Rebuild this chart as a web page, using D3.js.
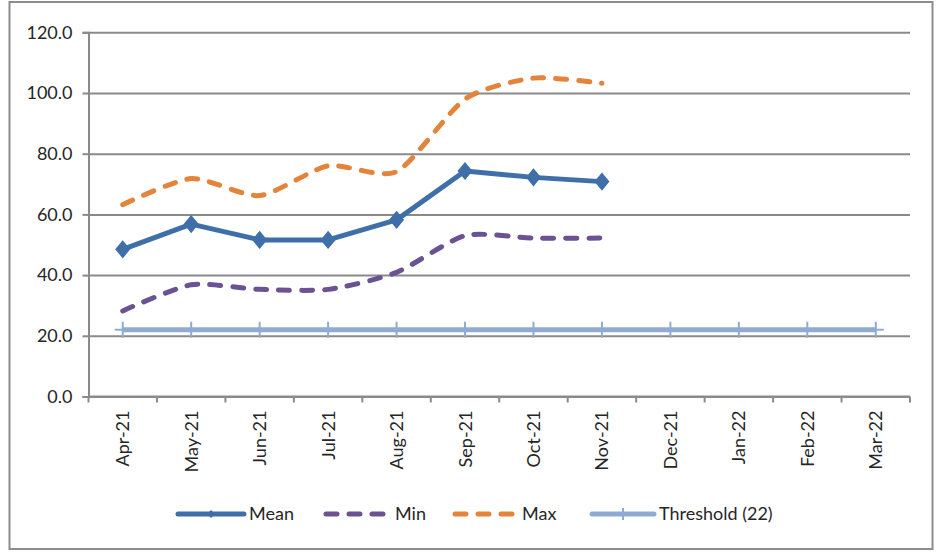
<!DOCTYPE html>
<html>
<head>
<meta charset="utf-8">
<script src="https://cdn.jsdelivr.net/npm/d3@7"></script>
<style>
  html, body { margin: 0; padding: 0; background: #fff; }
  svg { display: block; font-family: Lato, "Open Sans", sans-serif; }
</style>
</head>
<body>
<svg id="chart" width="937" height="553"></svg>
<script>
// Monthly categories along the x axis
const months = ["Apr-21", "May-21", "Jun-21", "Jul-21", "Aug-21", "Sep-21",
                "Oct-21", "Nov-21", "Dec-21", "Jan-22", "Feb-22", "Mar-22"];

// Series values (only Apr–Nov reported so far)
const meanValues = [48.5, 56.8, 51.6, 51.6, 58.2, 74.3, 72.2, 70.8];
const minValues  = [28.2, 36.8, 35.3, 35.3, 40.9, 53.0, 52.2, 52.2];
const maxValues  = [63.2, 71.8, 66.2, 76.0, 74.1, 98.0, 104.9, 103.2];
const thresholdValues = [22, 22, 22, 22, 22, 22, 22, 22, 22, 22, 22, 22];

// Y axis tick values
const yTicks = [0, 20, 40, 60, 80, 100, 120];

const svg = d3.select("#chart");

const plot = { left: 88.5, right: 910, top: 32.3, bottom: 396.5 };

const x = d3.scaleBand().domain(months).range([plot.left, plot.right]).padding(0);
const cx = d => x(d) + x.bandwidth() / 2;
const y = d3.scaleLinear().domain([0, 120]).range([plot.bottom, plot.top]);

const gridColor = "#8a8a8a";
const textColor = "#262626";

// Outer chart frame
svg.append("rect")
  .attr("x", 9.5).attr("y", 2).attr("width", 923).attr("height", 547)
  .attr("fill", "none").attr("stroke", "#8c8c8c").attr("stroke-width", 2);

// Horizontal gridlines
svg.append("g")
  .attr("transform", `translate(${plot.left},0)`)
  .call(d3.axisLeft(y).tickValues(yTicks).tickSize(-(plot.right - plot.left)).tickFormat(""))
  .call(g => g.select(".domain").remove())
  .call(g => g.selectAll("line").attr("stroke", gridColor).attr("stroke-width", 2));

// Y axis with labels
svg.append("g")
  .attr("transform", `translate(${plot.left},0)`)
  .call(d3.axisLeft(y).tickValues(yTicks).tickSize(6).tickPadding(10).tickFormat(d3.format(".1f")))
  .call(g => g.select(".domain").attr("stroke", gridColor).attr("stroke-width", 2))
  .call(g => g.selectAll("line").attr("stroke", gridColor).attr("stroke-width", 2))
  .call(g => g.selectAll("text").attr("fill", textColor).style("font-size", "18px")
    .style("font-family", "Lato, sans-serif"));

// X axis baseline with boundary ticks between categories
const xAxis = svg.append("g");
xAxis.append("line")
  .attr("x1", plot.left).attr("x2", plot.right)
  .attr("y1", plot.bottom).attr("y2", plot.bottom)
  .attr("stroke", gridColor).attr("stroke-width", 2);
const boundaries = months.map(m => x(m)).concat([plot.right]);
xAxis.selectAll("line.tick").data(boundaries).join("line")
  .attr("class", "tick")
  .attr("x1", d => d).attr("x2", d => d)
  .attr("y1", plot.bottom).attr("y2", plot.bottom + 6)
  .attr("stroke", gridColor).attr("stroke-width", 2);

// Rotated month labels
xAxis.selectAll("text").data(months).join("text")
  .attr("transform", d => `translate(${cx(d)},${plot.bottom + 14}) rotate(-90)`)
  .attr("text-anchor", "end")
  .attr("dy", "0.36em")
  .attr("fill", textColor)
  .style("font-size", "18px")
  .text(d => d);

const colors = {
  mean: "#3f6fa9",
  min: "#6a5293",
  max: "#e3843a",
  threshold: "#90abd3"
};

// Threshold line with plus markers
const thrLine = d3.line().x((d, i) => cx(months[i])).y(d => y(d));
svg.append("path")
  .datum(thresholdValues)
  .attr("d", thrLine)
  .attr("fill", "none")
  .attr("stroke", colors.threshold)
  .attr("stroke-width", 5);
const plus = svg.append("g").selectAll("g").data(thresholdValues).join("g")
  .attr("transform", (d, i) => `translate(${cx(months[i])},${y(d)})`);
plus.append("line").attr("x1", -8).attr("x2", 8).attr("y1", 0).attr("y2", 0)
  .attr("stroke", colors.threshold).attr("stroke-width", 2);
plus.append("line").attr("x1", 0).attr("x2", 0).attr("y1", -8).attr("y2", 8)
  .attr("stroke", colors.threshold).attr("stroke-width", 2);

// Smoothed dashed lines for Min and Max
const smooth = d3.line()
  .x((d, i) => cx(months[i]))
  .y(d => y(d))
  .curve(d3.curveCardinal.tension(0.3));

svg.append("path")
  .datum(minValues)
  .attr("d", smooth)
  .attr("fill", "none")
  .attr("stroke", colors.min)
  .attr("stroke-width", 5)
  .attr("stroke-linecap", "round")
  .attr("stroke-dasharray", "11,12");

svg.append("path")
  .datum(maxValues)
  .attr("d", smooth)
  .attr("fill", "none")
  .attr("stroke", colors.max)
  .attr("stroke-width", 5)
  .attr("stroke-linecap", "round")
  .attr("stroke-dasharray", "11,12");

// Mean line with diamond markers
const straight = d3.line().x((d, i) => cx(months[i])).y(d => y(d));
svg.append("path")
  .datum(meanValues)
  .attr("d", straight)
  .attr("fill", "none")
  .attr("stroke", colors.mean)
  .attr("stroke-width", 5)
  .attr("stroke-linejoin", "round");

const diamond = d3.symbol().type(d3.symbolDiamond2).size(160);
svg.append("g").selectAll("path").data(meanValues).join("path")
  .attr("transform", (d, i) => `translate(${cx(months[i])},${y(d)}) scale(0.95,1.15)`)
  .attr("d", diamond)
  .attr("fill", colors.mean);

// Legend
const legendY = 514;
const legendItems = [
  { name: "Mean", x0: 178, x1: 244, color: colors.mean, dash: null, marker: "diamond" },
  { name: "Min", x0: 326, x1: 390, color: colors.min, dash: "11,12", marker: null },
  { name: "Max", x0: 455, x1: 517, color: colors.max, dash: "11,12", marker: null },
  { name: "Threshold (22)", x0: 592, x1: 654, color: colors.threshold, dash: null, marker: "plus" }
];
const leg = svg.append("g").selectAll("g").data(legendItems).join("g");
leg.append("line")
  .attr("x1", d => d.x0).attr("x2", d => d.x1)
  .attr("y1", legendY).attr("y2", legendY)
  .attr("stroke", d => d.color)
  .attr("stroke-width", 5)
  .attr("stroke-linecap", "round")
  .attr("stroke-dasharray", d => d.dash);
leg.filter(d => d.marker === "diamond").append("path")
  .attr("transform", d => `translate(${(d.x0 + d.x1) / 2},${legendY})`)
  .attr("d", d3.symbol().type(d3.symbolDiamond2).size(40))
  .attr("fill", d => d.color);
leg.filter(d => d.marker === "plus").append("line")
  .attr("x1", d => (d.x0 + d.x1) / 2).attr("x2", d => (d.x0 + d.x1) / 2)
  .attr("y1", legendY - 6).attr("y2", legendY + 6)
  .attr("stroke", d => d.color).attr("stroke-width", 2);
leg.append("text")
  .attr("x", d => d.x1 + 5)
  .attr("y", legendY)
  .attr("dy", "0.35em")
  .attr("fill", textColor)
  .style("font-size", "18px")
  .text(d => d.name);
</script>
</body>
</html>
